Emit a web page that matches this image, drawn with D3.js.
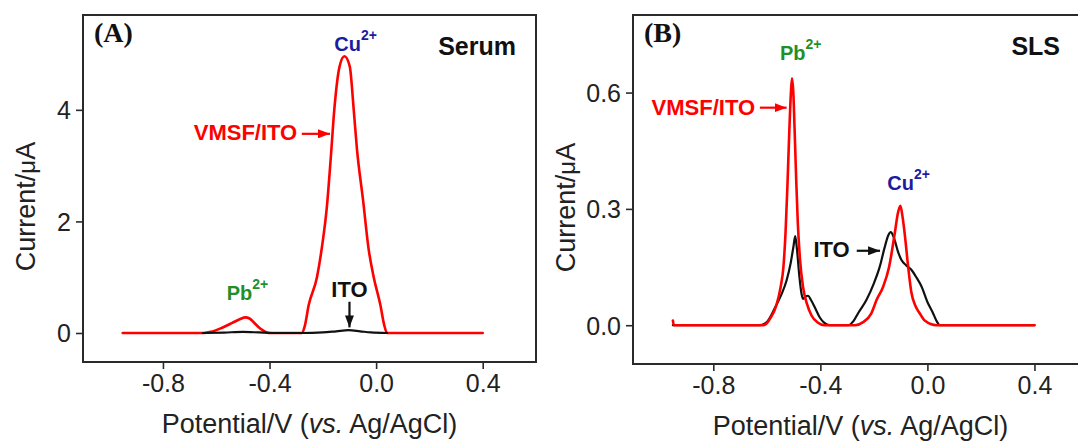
<!DOCTYPE html>
<html lang="en">
<head>
<meta charset="UTF-8">
<title>Stripping voltammetry: Serum / SLS</title>
<script src="https://d3js.org/d3.v7.min.js"></script>
<style>
  body { margin: 0; background: #fff; }
  svg { display: block; font-family: "Liberation Sans", Arial, sans-serif; }
  .frame { fill: none; stroke: #2a2a2a; stroke-width: 2; }
  .tick line { stroke: #2a2a2a; stroke-width: 1.6; }
  .tick text { font-size: 25px; fill: #222; font-family: "Liberation Sans", Arial, sans-serif; }
  .trace { fill: none; stroke-linejoin: round; stroke-linecap: round; }
  .note { font-weight: bold; }
  .title { font-size: 27px; fill: #222; }
</style>
</head>
<body>
<svg width="1078" height="444"></svg>
<script>
// tick values
const potentialTicks = [-0.8, -0.4, 0.0, 0.4];
const serumCurrentTicks = [0, 2, 4];
const slsCurrentTicks = [0.0, 0.3, 0.6];

// [potential V, current uA]
const serumVMSF = [
  [-0.951, 0], [-0.647, 0], [-0.62, 0.02], [-0.58, 0.09], [-0.54, 0.18], [-0.51, 0.25],
  [-0.491, 0.28], [-0.475, 0.26], [-0.455, 0.17], [-0.435, 0.08], [-0.415, 0.02], [-0.403, 0],
  [-0.278, 0], [-0.268, 0.12], [-0.253, 0.5], [-0.222, 1.0], [-0.203, 1.55], [-0.185, 2.25],
  [-0.17, 3.15], [-0.157, 4.0], [-0.137, 4.78], [-0.119, 4.96], [-0.099, 4.78], [-0.084, 4.0],
  [-0.072, 3.3], [-0.049, 2.38], [-0.028, 1.5], [-0.009, 1.0], [0.016, 0.5], [0.03, 0.15],
  [0.041, 0], [0.4, 0]
];
const serumITO = [
  [-0.65, 0], [-0.57, 0.008], [-0.5, 0.02], [-0.44, 0.01], [-0.39, 0], [-0.28, 0],
  [-0.2, 0.01], [-0.15, 0.03], [-0.103, 0.05], [-0.06, 0.03], [-0.02, 0.01], [0.041, 0]
];
const slsVMSF = [
  [-0.951, 0.012], [-0.947, 0], [-0.613, 0], [-0.60, 0.005], [-0.585, 0.02], [-0.565, 0.05],
  [-0.548, 0.1], [-0.538, 0.15], [-0.53, 0.24], [-0.523, 0.36], [-0.516, 0.5], [-0.51, 0.6],
  [-0.506, 0.637], [-0.501, 0.6], [-0.496, 0.5], [-0.49, 0.37], [-0.484, 0.26], [-0.476, 0.17],
  [-0.465, 0.1], [-0.45, 0.055], [-0.433, 0.025], [-0.41, 0.007], [-0.385, 0],
  [-0.27, 0], [-0.24, 0.008], [-0.21, 0.03], [-0.19, 0.065], [-0.165, 0.1], [-0.143, 0.151],
  [-0.122, 0.237], [-0.11, 0.29], [-0.101, 0.308], [-0.093, 0.28], [-0.085, 0.237],
  [-0.072, 0.151], [-0.06, 0.085], [-0.045, 0.05], [-0.029, 0.031], [-0.01, 0.012],
  [0.034, 0], [0.4, 0]
];
const slsITO = [
  [-0.951, 0], [-0.626, 0], [-0.60, 0.008], [-0.566, 0.05], [-0.545, 0.08], [-0.526, 0.116],
  [-0.511, 0.16], [-0.50, 0.205], [-0.494, 0.23], [-0.488, 0.2], [-0.479, 0.13], [-0.47, 0.08],
  [-0.464, 0.068], [-0.455, 0.074], [-0.446, 0.076], [-0.435, 0.065], [-0.42, 0.045],
  [-0.402, 0.02], [-0.385, 0.006], [-0.365, 0], [-0.296, 0], [-0.275, 0.012], [-0.259, 0.031],
  [-0.228, 0.065], [-0.2, 0.108], [-0.178, 0.151], [-0.16, 0.2], [-0.146, 0.232], [-0.137, 0.24],
  [-0.125, 0.225], [-0.11, 0.19], [-0.097, 0.168], [-0.08, 0.155], [-0.06, 0.143], [-0.04, 0.122],
  [-0.022, 0.1], [0, 0.06], [0.021, 0.031], [0.035, 0.01], [0.046, 0], [0.4, 0]
];

const RED = "#ff0000", BLACK = "#111", GREEN = "#1f8f2a", BLUE = "#1c1ca0";

const svg = d3.select("svg");

// arrow heads
const defs = svg.append("defs");
[["red", RED], ["black", BLACK]].forEach(([id, c]) => {
  defs.append("marker")
    .attr("id", "head-" + id)
    .attr("markerUnits", "userSpaceOnUse")
    .attr("markerWidth", 12).attr("markerHeight", 9)
    .attr("refX", 12).attr("refY", 4.5)
    .attr("orient", "auto")
    .append("path").attr("d", "M0,0 L12,4.5 L0,9 Z").attr("fill", c);
});

const fmtV = v => d3.format(".1f")(v).replace("\u2212", "-");

const panels = [
  {
    box: { left: 83, right: 536, top: 15, bottom: 362 },
    yDomain: [-0.52, 5.7], yTicks: serumCurrentTicks, yFmt: d3.format("d"),
    yTitleX: 35,
    tag: "(A)", medium: "Serum", mediumRight: 20,
    series: [[serumVMSF, RED, 2.6], [serumITO, BLACK, 2.2]],
    ions: [["Cu", -0.157, 5.06, BLUE], ["Pb", -0.561, 0.59, GREEN]],
    notes: [["VMSF/ITO", -0.296, 3.46, RED, "end"], ["ITO", -0.1, 0.64, BLACK, "middle"]],
    arrows: [[-0.279, 3.57, -0.173, 3.57, "red"], [-0.1, 0.56, -0.1, 0.1, "black"]]
  },
  {
    box: { left: 633, right: 1088, top: 15, bottom: 364 },
    yDomain: [-0.1, 0.8], yTicks: slsCurrentTicks, yFmt: d3.format(".1f"),
    yTitleX: 575,
    tag: "(B)", medium: "SLS", mediumRight: 28,
    series: [[slsITO, BLACK, 2.2], [slsVMSF, RED, 2.6]],
    ions: [["Pb", -0.551, 0.684, GREEN], ["Cu", -0.15, 0.349, BLUE]],
    notes: [["VMSF/ITO", -0.644, 0.542, RED, "end"], ["ITO", -0.426, 0.175, BLACK, "start"]],
    arrows: [[-0.626, 0.561, -0.526, 0.561, "red"], [-0.264, 0.192, -0.177, 0.192, "black"]]
  }
];

panels.forEach(p => {
  const b = p.box;
  const x = d3.scaleLinear().domain([-1.1, 0.6]).range([b.left, b.right]);
  const y = d3.scaleLinear().domain(p.yDomain).range([b.bottom, b.top]);
  const g = svg.append("g");

  // x axis
  const xa = g.append("g").attr("transform", `translate(0,${b.bottom})`)
    .call(d3.axisBottom(x).tickValues(potentialTicks).tickFormat(fmtV)
      .tickSize(7).tickPadding(5));
  xa.select(".domain").remove();

  // y axis
  const ya = g.append("g").attr("transform", `translate(${b.left},0)`)
    .call(d3.axisLeft(y).tickValues(p.yTicks).tickFormat(p.yFmt)
      .tickSize(7).tickPadding(5));
  ya.select(".domain").remove();
  ya.selectAll(".tick text").attr("dy", "0.36em");

  // traces
  const line = d3.line().x(d => x(d[0])).y(d => y(d[1])).curve(d3.curveMonotoneX);
  p.series.forEach(([data, color, w]) => {
    g.append("path").attr("class", "trace").attr("d", line(data))
      .attr("stroke", color).attr("stroke-width", w);
  });

  // frame
  g.append("rect").attr("class", "frame")
    .attr("x", b.left).attr("y", b.top)
    .attr("width", b.right - b.left).attr("height", b.bottom - b.top);

  // panel tag and medium
  g.append("text").attr("x", b.left + 11).attr("y", b.top + 27)
    .style("font-family", "'Liberation Serif', 'Times New Roman', serif")
    .style("font-weight", "bold").style("font-size", "28px").attr("fill", "#111")
    .text(p.tag);
  g.append("text").attr("x", b.right - p.mediumRight).attr("y", b.top + 40)
    .attr("text-anchor", "end").attr("class", "note")
    .style("font-size", "25px").attr("fill", "#111").text(p.medium);

  // ion labels with superscript
  p.ions.forEach(([t, vx, vy, c]) => {
    const tx = g.append("text").attr("class", "note").attr("fill", c)
      .attr("x", x(vx)).attr("y", y(vy)).style("font-size", "20px");
    tx.append("tspan").text(t);
    tx.append("tspan").attr("dy", -11).style("font-size", "14px").text("2+");
  });

  // electrode labels
  p.notes.forEach(([t, vx, vy, c, anchor]) => {
    g.append("text").attr("class", "note").attr("fill", c)
      .attr("x", x(vx)).attr("y", y(vy)).attr("text-anchor", anchor)
      .style("font-size", "22px").text(t);
  });

  // arrows
  p.arrows.forEach(([x1, y1, x2, y2, id]) => {
    g.append("line")
      .attr("x1", x(x1)).attr("y1", y(y1)).attr("x2", x(x2)).attr("y2", y(y2))
      .attr("stroke", id === "red" ? RED : BLACK).attr("stroke-width", 2.2)
      .attr("marker-end", `url(#head-${id})`);
  });

  // axis titles
  const xt = g.append("text").attr("class", "title").attr("text-anchor", "middle")
    .attr("x", (b.left + b.right) / 2).attr("y", b.bottom + 71);
  xt.append("tspan").text("Potential/V (");
  xt.append("tspan").style("font-style", "italic").text("vs.");
  xt.append("tspan").text(" Ag/AgCl)");

  const yt = g.append("text").attr("class", "title").attr("text-anchor", "middle")
    .attr("transform", `translate(${p.yTitleX},${(b.top + b.bottom) / 2 + 18}) rotate(-90)`);
  yt.append("tspan").text("Current/");
  yt.append("tspan").style("font-size", "24px").text("\u03bc");
  yt.append("tspan").text("A");
});
</script>
</body>
</html>
